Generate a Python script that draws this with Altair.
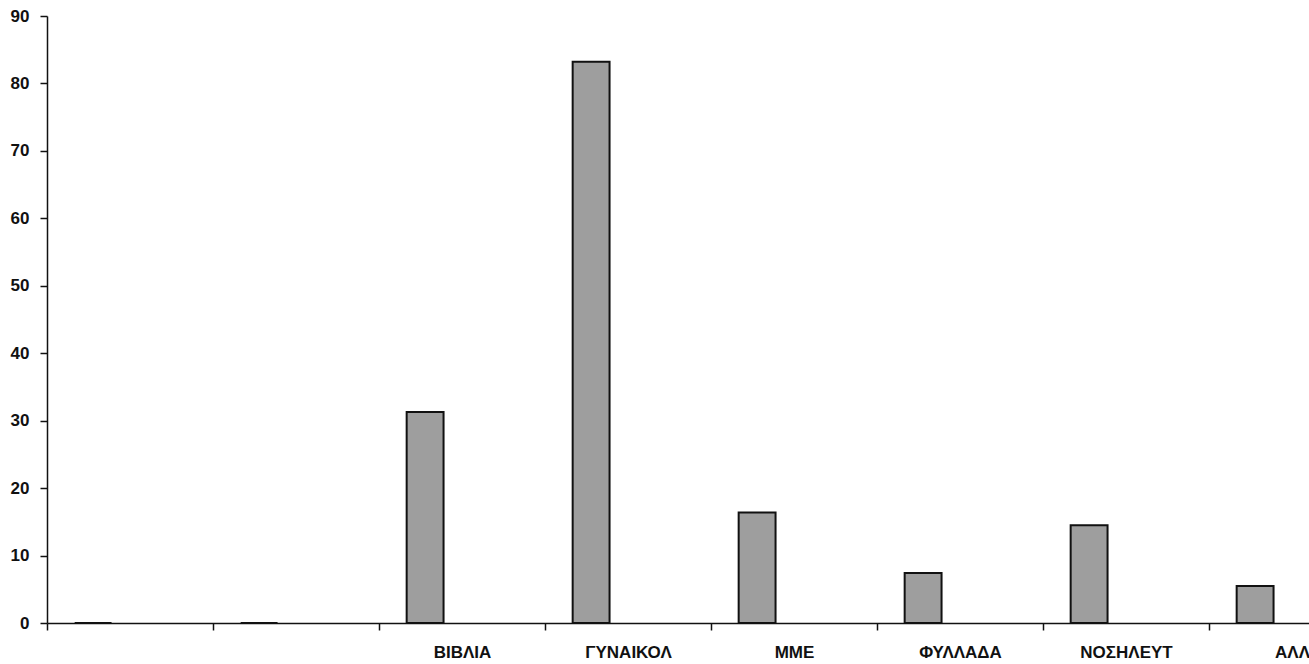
import altair as alt
import pandas as pd

categories = ["", " ", "ΒΙΒΛΙΑ", "ΓΥΝΑΙΚΟΛ", "ΜΜΕ", "ΦΥΛΛΑΔΑ", "ΝΟΣΗΛΕΥΤ", "ΑΛΛ"]
values = [0, 0, 31.3, 83.2, 16.4, 7.4, 14.5, 5.5]
series_names = ["Σειρά1", "Σειρά2", "Σειρά3"]

df = pd.DataFrame({"cat": categories, "val": values, "series": series_names[0]})

font = "Liberation Sans"

bars = alt.Chart(df).mark_bar(
    fill="#9e9e9e", stroke="#111111", strokeWidth=2
).encode(
    x=alt.X(
        "cat:N",
        sort=categories,
        scale=alt.Scale(domain=categories, range=[0, 1328],
                        paddingInner=1 / 3, paddingOuter=1 / 6),
        axis=alt.Axis(
            title=None, labelAngle=0, bandPosition=0.5,
            tickOffset=-83, labelOffset=83,
            tickSize=7, tickColor="#111111", tickWidth=1.5,
            domainColor="#111111", domainWidth=1.5,
            labelFont=font, labelFontSize=17, labelFontWeight="bold",
            labelColor="#111111", labelPadding=14,
            labelBound=False, labelFlush=False, labelOverlap=False,
            grid=False,
        ),
    ),
    xOffset=alt.XOffset("series:N", scale=alt.Scale(domain=series_names, paddingInner=0, paddingOuter=0)),
    y=alt.Y(
        "val:Q",
        scale=alt.Scale(domain=[0, 90], nice=False),
        axis=alt.Axis(
            title=None, values=list(range(0, 91, 10)),
            tickSize=7, tickColor="#111111", tickWidth=1.5,
            domainColor="#111111", domainWidth=1.5,
            labelFont=font, labelFontSize=17, labelFontWeight="bold",
            labelColor="#111111", labelPadding=11, grid=False,
        ),
    ),
)

chart = bars.properties(
    width=1262, height=607,
    autosize=alt.AutoSizeParams(type="none"),
    padding={"left": 47, "top": 16, "right": 0, "bottom": 41},
    background="white",
).configure_view(stroke=None)

chart.save("out.html", embed_options={"renderer": "svg", "actions": False})
